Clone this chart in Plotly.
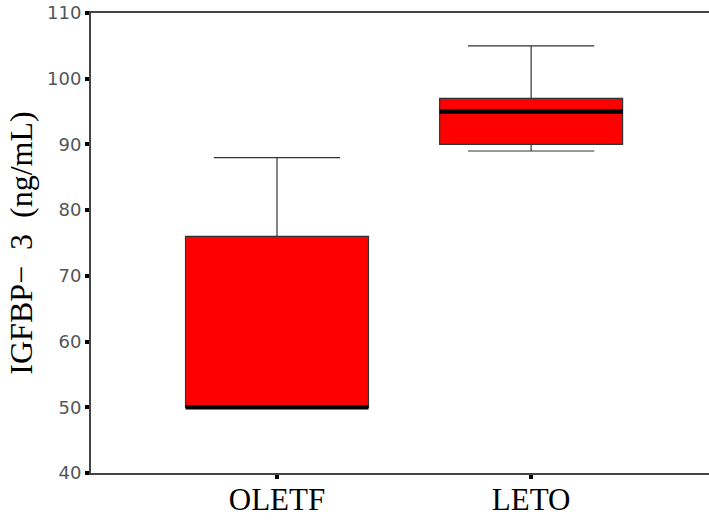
import plotly.graph_objects as go

# Five-number summaries per strain
groups = ["OLETF", "LETO"]
q1 = [50, 90]
median = [50, 95]
q3 = [76, 97]
lower = [50, 89]
upper = [88, 105]

y_ticks = [40, 50, 60, 70, 80, 90, 100, 110]

box_width = 0.72
pos = list(range(len(groups)))

fig = go.Figure()
fig.add_trace(go.Box(
    x=pos, q1=q1, median=median, q3=q3,
    lowerfence=lower, upperfence=upper,
    width=box_width, whiskerwidth=0.69,
    fillcolor="#ff0000",
    line=dict(color="#333333", width=1.2),
    boxpoints=False, showlegend=False, hoverinfo="skip",
))

# Heavy median bars drawn over each box
for p, m in zip(pos, median):
    fig.add_trace(go.Scatter(
        x=[p - box_width / 2, p + box_width / 2], y=[m, m],
        mode="lines", line=dict(color="#000000", width=4.5),
        showlegend=False, hoverinfo="skip",
    ))

fig.update_layout(
    width=709, height=521,
    margin=dict(l=91, r=0, t=13, b=48),
    paper_bgcolor="white", plot_bgcolor="white",
    xaxis=dict(
        range=[-0.732, 1.70], tickvals=pos, ticktext=groups,
        showline=True, linecolor="#444444", linewidth=2, mirror=True,
        ticks="outside", ticklen=4, tickwidth=4, tickcolor="#000000",
        showgrid=False, zeroline=False, ticklabelstandoff=-6,
        tickfont=dict(family="Liberation Serif", size=31, color="#000000"),
    ),
    yaxis=dict(
        range=[40, 110], tickvals=y_ticks,
        showline=True, linecolor="#444444", linewidth=2,
        ticks="outside", ticklen=4, tickwidth=4, tickcolor="#000000",
        showgrid=False, zeroline=False,
        tickfont=dict(family="DejaVu Sans", size=18, color="#555555"),
        title=dict(text="IGFBP\u2212  3  (ng/mL)",
                   font=dict(family="Liberation Serif", size=32, color="#000000"),
                   standoff=5),
    ),
)

fig.write_html("out.html")
